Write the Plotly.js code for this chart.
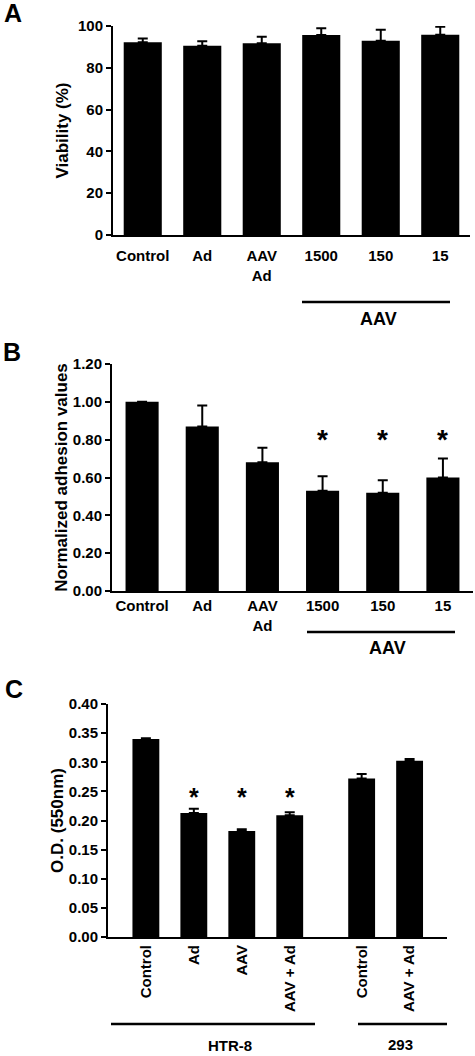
<!DOCTYPE html>
<html>
<head>
<meta charset="utf-8">
<script src="https://cdn.plot.ly/plotly-3.0.1.min.js"></script>
<style>html,body{margin:0;padding:0;background:#fff;}#chart{width:475px;height:1056px;}</style>
</head>
<body>
<div id="chart"></div>
<script>
// ---- data ----
var catsAB = ["Control", "Ad", "AAV<br>Ad", "1500", "150", "15"];
var viability = [92.2, 90.6, 91.7, 95.7, 93.0, 95.8];
var viabilityErr = [1.8, 2.1, 3.2, 3.2, 5.2, 3.9];
var adhesion = [1.00, 0.87, 0.68, 0.53, 0.52, 0.60];
var adhesionErr = [0, 0.11, 0.077, 0.077, 0.065, 0.10];
var adhesionSig = [false, false, false, true, true, true];
var odCats = ["Control", "Ad", "AAV", "AAV + Ad", "Control", "AAV + Ad"];
var odPos = [0, 1, 2, 3, 4.5, 5.5];
var od = [0.340, 0.213, 0.182, 0.209, 0.272, 0.3026];
var odErr = [0.001, 0.007, 0.003, 0.005, 0.008, 0.003];
var odSig = [false, true, true, true, false, false];
var groupsC = ["HTR-8", "293"];

var W = 475, H = 1056;
function px(x) { return x / W; }
function py(y) { return 1 - y / H; }
function zeros(a) { return a.map(function () { return 0; }); }

var FAM = "Liberation Sans, Arial, sans-serif";
var tickFont = {family: FAM, size: 15, color: "#000", weight: "bold"};
var titleFont = {family: FAM, size: 17, color: "#000", weight: "bold"};

var idx = catsAB.map(function (_, i) { return i; });

var traces = [
  {type: "bar", x: idx, y: viability, xaxis: "x", yaxis: "y",
   marker: {color: "#000"}, width: 0.64,
   error_y: {type: "data", symmetric: false, array: viabilityErr, arrayminus: zeros(viabilityErr), color: "#000", thickness: 2, width: 5}},
  {type: "bar", x: idx, y: adhesion, xaxis: "x2", yaxis: "y2",
   marker: {color: "#000"}, width: 0.55,
   error_y: {type: "data", symmetric: false, array: adhesionErr, arrayminus: zeros(adhesionErr), color: "#000", thickness: 2, width: 5}},
  {type: "bar", x: odPos, y: od, xaxis: "x3", yaxis: "y3",
   marker: {color: "#000"}, width: 0.56,
   error_y: {type: "data", symmetric: false, array: odErr, arrayminus: zeros(odErr), color: "#000", thickness: 2, width: 5}}
];

var yax = {showgrid: false, zeroline: false, showline: true, linecolor: "#000", linewidth: 2,
  ticks: "outside", ticklen: 5, tickwidth: 2, tickcolor: "#000", tickfont: tickFont};
var xax = {showgrid: false, zeroline: false, showline: true, linecolor: "#000", linewidth: 2,
  ticks: "", tickfont: tickFont};

function merge(a, b) { var o = {}; for (var k in a) o[k] = a[k]; for (var k2 in b) o[k2] = b[k2]; return o; }

var annotations = [];
function paperText(t, x, y, size) {
  annotations.push({text: t, xref: "paper", yref: "paper", x: px(x), y: py(y), showarrow: false,
    xanchor: "center", yanchor: "middle", borderpad: 0,
    font: {family: FAM, size: size, color: "#000", weight: "bold"}});
}
paperText("A", 13, 13, 25);
paperText("B", 12, 352, 25);
paperText("C", 14, 689, 25);
paperText("AAV", 378, 319, 18);
paperText("AAV", 387, 648, 18);
paperText(groupsC[0], 230, 1045, 15);
paperText(groupsC[1], 400, 1044, 15);

adhesionSig.forEach(function (s, i) {
  if (s) annotations.push({text: "*", xref: "x2", yref: "y2", x: i, y: 0.80, showarrow: false,
    yanchor: "middle", font: {family: FAM, size: 28, color: "#000", weight: "bold"}});
});
odSig.forEach(function (s, i) {
  if (s) annotations.push({text: "*", xref: "x3", yref: "y3", x: odPos[i], y: 0.24, showarrow: false,
    yanchor: "middle", font: {family: FAM, size: 25, color: "#000", weight: "bold"}});
});

var lineStyle = {color: "#000", width: 2.5};
var shapes = [
  {type: "line", xref: "paper", yref: "paper", x0: px(302), x1: px(450), y0: py(302), y1: py(302), line: lineStyle},
  {type: "line", xref: "paper", yref: "paper", x0: px(307), x1: px(455), y0: py(632), y1: py(632), line: lineStyle},
  {type: "line", xref: "paper", yref: "paper", x0: px(111), x1: px(315), y0: py(1024), y1: py(1024), line: lineStyle},
  {type: "line", xref: "paper", yref: "paper", x0: px(358), x1: px(447), y0: py(1024), y1: py(1024), line: lineStyle}
];

var layout = {
  width: W, height: H, margin: {l: 0, r: 0, t: 0, b: 0},
  paper_bgcolor: "#fff", plot_bgcolor: "#fff", showlegend: false,
  font: {family: FAM, color: "#000", weight: "bold"},
  xaxis: merge(xax, {domain: [px(113), px(470)], anchor: "y", range: [-0.5, 5.5],
    tickmode: "array", tickvals: idx, ticktext: catsAB, ticklabelstandoff: 6}),
  yaxis: merge(yax, {domain: [py(235), py(26)], anchor: "x", range: [0, 100],
    tickmode: "array", tickvals: [0, 20, 40, 60, 80, 100],
    title: {text: "Viability (%)", font: titleFont}}),
  xaxis2: merge(xax, {domain: [px(112), px(473)], anchor: "y2", range: [-0.5, 5.5],
    tickmode: "array", tickvals: idx, ticktext: catsAB}),
  yaxis2: merge(yax, {domain: [py(591), py(364)], anchor: "x2", range: [0, 1.2],
    tickmode: "array", tickvals: [0, 0.2, 0.4, 0.6, 0.8, 1.0, 1.2], tickformat: ".2f",
    title: {text: "Normalized adhesion values", font: titleFont}}),
  xaxis3: merge(xax, {domain: [px(108), px(447)], anchor: "y3", range: [-0.79, 6.28],
    tickmode: "array", tickvals: odPos, ticktext: odCats, tickangle: -90}),
  yaxis3: merge(yax, {domain: [py(937), py(704)], anchor: "x3", range: [0, 0.4],
    tickmode: "array", tickvals: [0, 0.05, 0.1, 0.15, 0.2, 0.25, 0.3, 0.35, 0.4], tickformat: ".2f",
    title: {text: "O.D. (550nm)", font: titleFont}}),
  annotations: annotations,
  shapes: shapes
};

Plotly.newPlot("chart", traces, layout, {staticPlot: true, displayModeBar: false});
</script>
</body>
</html>
